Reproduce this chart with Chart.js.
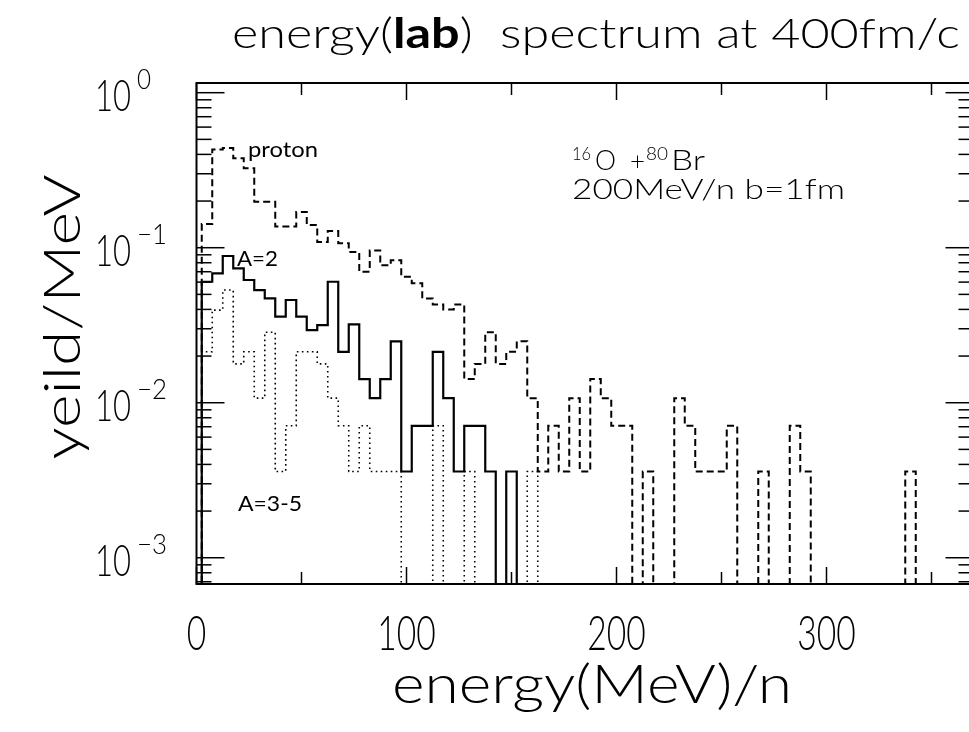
<!DOCTYPE html>
<html lang="en">
<head>
<meta charset="utf-8">
<title>energy(lab) spectrum at 400fm/c</title>
<script src="https://cdn.jsdelivr.net/npm/chart.js@4.4.1/dist/chart.umd.min.js"></script>
<style>
  html, body { margin: 0; padding: 0; background: #fff; overflow: hidden; }
  #chart { display: block; }
</style>
</head>
<body>
<canvas id="chart" width="980" height="732"></canvas>
<script>
// Centros de los bins (MeV/n), ancho de bin 5 MeV
const binCenters = [
  5, 10, 15, 20, 25, 30, 35, 40, 45, 50, 55, 60, 65, 70, 75, 80, 85,
  90, 95, 100, 105, 110, 115, 120, 125, 130, 135, 140, 145, 150, 155, 160, 165, 170,
  175, 180, 185, 190, 195, 200, 205, 210, 215, 220, 225, 230, 235, 240, 245, 250,
  255, 260, 265, 270, 275, 280, 285, 290, 295, 300, 305, 310, 315, 320, 325, 330, 335, 340
];
const BIN_HALF = 2.5;

// proton (línea discontinua)
const protonYield = [
  0.142, 0.43, 0.44, 0.377, 0.325, 0.198, 0.198, 0.137, 0.137, 0.17,
  0.14, 0.109, 0.128, 0.107, 0.094, 0.070, 0.096, 0.077, 0.083, 0.065,
  0.059, 0.047, 0.043, 0.040, 0.043, 0.0142, 0.0178, 0.0285, 0.0178, 0.0213,
  0.0249, 0.0107, 0.0036, 0.0071, 0.0036, 0.0107, 0.0036, 0.0142, 0.0107, 0.0071,
  0.0071, 0, 0.0036, 0, 0, 0.0107, 0.0071, 0.0036, 0.0036, 0.0036,
  0.0071, 0, 0, 0.0036, 0, 0, 0.0071, 0.0036, 0, 0,
  0, 0, 0, 0, 0, 0, 0, 0.0036
];

// A=2 (línea continua)
const a2Yield = [
  0.0603, 0.0684, 0.0884, 0.0736, 0.0619, 0.0533, 0.0471, 0.0359, 0.046, 0.0359,
  0.0294, 0.0317, 0.0603, 0.0213, 0.032, 0.0142, 0.0107, 0.0142, 0.0249, 0.0036,
  0.0071, 0.0071, 0.0213, 0.0107, 0.0036, 0.0071, 0.0071, 0.0036, 0, 0.0036
];

// A=3-5 (línea punteada)
const a35Yield = [
  0.0213, 0.0396, 0.0533, 0.0178, 0.0213, 0.0107, 0.0285, 0.0036, 0.0071, 0.0213,
  0.0213, 0.0178, 0.0107, 0.0071, 0.0036, 0.0071, 0.0036, 0.0036, 0.0036, 0,
  0, 0, 0.0071, 0, 0, 0.0036, 0, 0, 0, 0,
  0, 0.0036
];

// Ejes
const X_MIN = 0, X_MAX = 370;
const Y_MIN = 6.77e-4, Y_MAX = 1.155;
const xTickLabels = [0, 100, 200, 300];
const xTickMarks = [0, 50, 100, 150, 200, 250, 300, 350];
const yTickExponents = [0, -1, -2, -3];

// un bin vacío no se puede poner en escala log: se baja por debajo del eje (queda recortado)
const EMPTY_BIN = 1e-6;

const FONT = "Lato, 'DejaVu Sans', sans-serif";

/* Pasa un histograma a puntos escalonados (borde izquierdo de cada bin) */
function histPoints(values) {
  const yv = (v) => (v > 0 ? v : EMPTY_BIN);
  const pts = [{ x: binCenters[0] - BIN_HALF, y: EMPTY_BIN }];
  values.forEach((v, i) => pts.push({ x: binCenters[i] - BIN_HALF, y: yv(v) }));
  const last = values.length - 1;
  pts.push({ x: binCenters[last] + BIN_HALF, y: EMPTY_BIN });
  return pts;
}

/* Texto escalado en horizontal para ocupar un ancho dado */
function fitText(ctx, text, x, y, font, width, align) {
  ctx.font = font;
  const w = ctx.measureText(text).width;
  const sx = width ? width / w : 1;
  ctx.save();
  ctx.translate(x, y);
  ctx.scale(sx, 1);
  ctx.textAlign = align || "left";
  ctx.fillText(text, 0, 0);
  ctx.restore();
  return w * sx;
}

function line(ctx, x1, y1, x2, y2) {
  ctx.beginPath();
  ctx.moveTo(x1, y1);
  ctx.lineTo(x2, y2);
  ctx.stroke();
}

// Marco, ticks, etiquetas y textos
const decorPlugin = {
  id: "decor",
  beforeDraw(chart) {
    const ctx = chart.ctx;
    ctx.save();
    ctx.fillStyle = "#fff";
    ctx.fillRect(0, 0, chart.width, chart.height);
    ctx.restore();
  },
  afterDraw(chart) {
    const { ctx, chartArea: a } = chart;
    const xs = chart.scales.x, ys = chart.scales.y;
    ctx.save();
    ctx.strokeStyle = "#000";
    ctx.fillStyle = "#000";
    ctx.textBaseline = "alphabetic";

    // marco
    ctx.lineWidth = 2;
    ctx.strokeRect(a.left, a.top, a.right - a.left, a.bottom - a.top);

    // ticks eje y (hacia dentro, izquierda y derecha)
    ctx.lineWidth = 1.5;
    for (let d = -4; d <= 0; d++) {
      for (let m = 1; m <= 9; m++) {
        const v = m * Math.pow(10, d);
        if (v < Y_MIN || v > Y_MAX) continue;
        const py = ys.getPixelForValue(v);
        const len = m === 1 ? 28 : 15;
        line(ctx, a.left, py, a.left + len, py);
        line(ctx, a.right, py, a.right - len, py);
      }
    }

    // ticks eje x (abajo y arriba)
    xTickMarks.forEach((v) => {
      const px = xs.getPixelForValue(v);
      const len = v % 100 === 0 ? 17 : 12;
      line(ctx, px, a.bottom, px, a.bottom - len);
      line(ctx, px, a.top, px, a.top + len);
    });

    // etiquetas x
    xTickLabels.forEach((v) => {
      const px = xs.getPixelForValue(v);
      const txt = String(v);
      fitText(ctx, txt, px, 650, `300 48px ${FONT}`, 19.5 * txt.length, "center");
    });

    // etiquetas y: 10 con exponente
    yTickExponents.forEach((e) => {
      const py = ys.getPixelForValue(Math.pow(10, e));
      fitText(ctx, "10", 131, py + 18, `300 44px ${FONT}`, 36, "right");
      const exp = e === 0 ? "0" : "\u2212" + String(-e);
      fitText(ctx, exp, 137, py - 4, `300 28px ${FONT}`, e === 0 ? 14 : 30, "left");
    });

    // título del eje x
    fitText(ctx, "energy(MeV)/n", 592, 703, `300 54px ${FONT}`, 400, "center");

    // título del eje y (rotado)
    ctx.save();
    ctx.translate(80, 317);
    ctx.rotate(-Math.PI / 2);
    fitText(ctx, "yeild/MeV", 0, 0, `300 52px ${FONT}`, 285, "center");
    ctx.restore();

    // título superior con "lab" en negrita
    const parts = [
      ["energy(", `300 42px ${FONT}`],
      ["lab", `700 42px ${FONT}`],
      [")  spectrum at 400fm/c", `300 42px ${FONT}`],
    ];
    let total = 0;
    parts.forEach(([t, f]) => { ctx.font = f; total += ctx.measureText(t).width; });
    const k = 728 / total;
    let tx = 232;
    parts.forEach(([t, f]) => {
      ctx.font = f;
      tx += fitText(ctx, t, tx, 48, f, ctx.measureText(t).width * k, "left");
    });

    // etiquetas de las curvas
    fitText(ctx, "proton", 248, 157, `400 22px ${FONT}`, 70, "left");
    fitText(ctx, "A=2", 237, 266, `400 22px ${FONT}`, 41, "left");
    fitText(ctx, "A=3-5", 238, 511, `400 22px ${FONT}`, 64, "left");

    // reacción
    fitText(ctx, "16", 572, 160, `300 18px ${FONT}`, 19, "left");
    fitText(ctx, "O", 595, 170, `300 28px ${FONT}`, 21, "left");
    fitText(ctx, "+", 630, 170, `300 26px ${FONT}`, 15, "left");
    fitText(ctx, "80", 646, 160, `300 18px ${FONT}`, 22, "left");
    fitText(ctx, "Br", 671, 170, `300 28px ${FONT}`, 34, "left");
    fitText(ctx, "200MeV/n b=1fm", 572, 199, `300 28px ${FONT}`, 273, "left");

    ctx.restore();
  },
};

const common = {
  fill: false,
  stepped: true,
  pointRadius: 0,
  borderColor: "#000",
  borderCapStyle: "butt",
  tension: 0,
};

const chart = new Chart(document.getElementById("chart"), {
  type: "line",
  data: {
    datasets: [
      { ...common, label: "proton", data: histPoints(protonYield), borderWidth: 2, borderDash: [7, 4] },
      { ...common, label: "A=2", data: histPoints(a2Yield), borderWidth: 2.2 },
      { ...common, label: "A=3-5", data: histPoints(a35Yield), borderWidth: 1.6, borderDash: [1.6, 3.4] },
    ],
  },
  options: {
    responsive: false,
    animation: false,
    devicePixelRatio: 1,
    layout: { padding: { left: 196.5, right: 6.5, top: 83, bottom: 148 } },
    plugins: { legend: { display: false }, title: { display: false }, tooltip: { enabled: false } },
    scales: {
      x: { type: "linear", min: X_MIN, max: X_MAX, display: false },
      y: { type: "logarithmic", min: Y_MIN, max: Y_MAX, display: false },
    },
  },
  plugins: [decorPlugin],
});
</script>
</body>
</html>
